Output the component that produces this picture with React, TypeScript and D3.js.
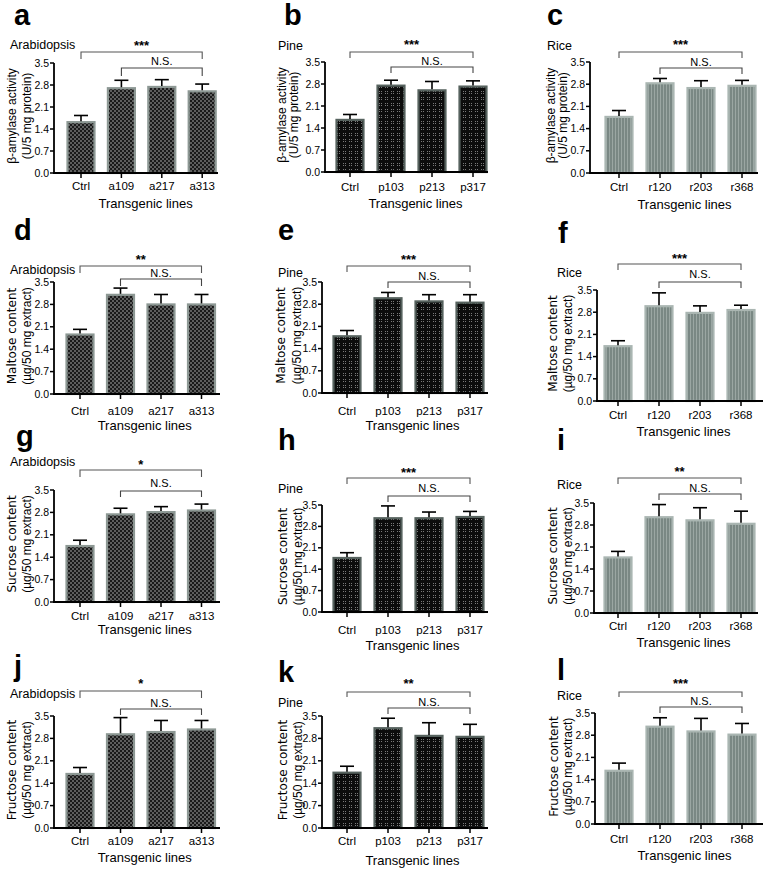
import React from "react";
import * as d3 from "d3";

// ---------- DATA ----------
const arabidopsisLines = ["Ctrl", "a109", "a217", "a313"];
const pineLines = ["Ctrl", "p103", "p213", "p317"];
const riceLines = ["Ctrl", "r120", "r203", "r368"];
const yTickValues = [0, 0.7, 1.4, 2.1, 2.8, 3.5];

const amylaseArabidopsis = [1.65, 2.73, 2.77, 2.63];
const amylaseArabidopsisErr = [0.18, 0.22, 0.2, 0.2];
const amylasePine = [1.69, 2.78, 2.63, 2.75];
const amylasePineErr = [0.14, 0.14, 0.25, 0.15];
const amylaseRice = [1.8, 2.86, 2.71, 2.78];
const amylaseRiceErr = [0.17, 0.12, 0.2, 0.14];

const maltoseArabidopsis = [1.89, 3.13, 2.83, 2.83];
const maltoseArabidopsisErr = [0.13, 0.18, 0.28, 0.28];
const maltosePine = [1.82, 3.02, 2.92, 2.88];
const maltosePineErr = [0.15, 0.15, 0.18, 0.22];
const maltoseRice = [1.76, 3.02, 2.81, 2.9];
const maltoseRiceErr = [0.14, 0.39, 0.19, 0.12];

const sucroseArabidopsis = [1.78, 2.77, 2.84, 2.89];
const sucroseArabidopsisErr = [0.15, 0.16, 0.14, 0.17];
const sucrosePine = [1.8, 3.1, 3.1, 3.14];
const sucrosePineErr = [0.14, 0.37, 0.17, 0.15];
const sucroseRice = [1.8, 3.08, 2.98, 2.87];
const sucroseRiceErr = [0.16, 0.37, 0.37, 0.37];

const fructoseArabidopsis = [1.72, 2.96, 3.03, 3.11];
const fructoseArabidopsisErr = [0.17, 0.49, 0.33, 0.25];
const fructosePine = [1.76, 3.15, 2.91, 2.88];
const fructosePineErr = [0.17, 0.28, 0.38, 0.36];
const fructoseRice = [1.71, 3.1, 2.95, 2.85];
const fructoseRiceErr = [0.21, 0.25, 0.38, 0.32];

const panelLetters = ["a", "b", "c", "d", "e", "f", "g", "h", "i", "j", "k", "l"];
const speciesNames = ["Arabidopsis", "Pine", "Rice"];
const significance = ["***", "***", "***", "**", "***", "***", "*", "***", "**", "*", "**", "***"];
const yLabelFirst = ["β-amylase activity", "Maltose content", "Sucrose content", "Fructose content"];
const yLabelSecond = ["(U/5 mg protein)", "(µg/50 mg extract)", "(µg/50 mg extract)", "(µg/50 mg extract)"];
const xAxisTitle = "Transgenic lines";
const nsLabel = "N.S.";

// ---------- LAYOUT (positions per panel) ----------
type L = {
  ax: number; ae: number; yt: number; yb: number; t0: number; st: number;
  lx: number; ly: number; tx: number; ty: number; sy: number; b1: number; b1d: number;
  nsy: number; b2: number; b2d: number; xly: number; xty: number; yl1: number; yl2: number;
};
const layouts: L[] = [
  { ax: 54, ae: 218, yt: 63, yb: 173, t0: 81, st: 40.4, lx: 14, ly: 25, tx: 10, ty: 49, sy: 50, b1: 52, b1d: 7, nsy: 65, b2: 68, b2d: 8, xly: 190, xty: 208, yl1: 12, yl2: 27 },
  { ax: 325, ae: 488, yt: 62, yb: 172, t0: 350, st: 41, lx: 284, ly: 25, tx: 278, ty: 50, sy: 49, b1: 52, b1d: 6, nsy: 65, b2: 67, b2d: 6, xly: 191, xty: 208, yl1: 282, yl2: 294 },
  { ax: 590, ae: 758, yt: 62, yb: 173, t0: 619, st: 41, lx: 547, ly: 25, tx: 547, ty: 50, sy: 49, b1: 52, b1d: 6, nsy: 66, b2: 68, b2d: 6, xly: 191, xty: 209, yl1: 551, yl2: 563 },
  { ax: 54, ae: 220, yt: 282, yb: 394, t0: 80, st: 40.5, lx: 14, ly: 240, tx: 10, ty: 274, sy: 264, b1: 266, b1d: 7, nsy: 277, b2: 279, b2d: 7, xly: 415, xty: 430, yl1: 12, yl2: 27 },
  { ax: 322, ae: 488, yt: 282, yb: 393, t0: 347, st: 41, lx: 278, ly: 240, tx: 278, ty: 277, sy: 264, b1: 266, b1d: 6, nsy: 280, b2: 282, b2d: 6, xly: 415, xty: 430, yl1: 281, yl2: 297 },
  { ax: 597, ae: 763, yt: 290, yb: 401, t0: 618, st: 41, lx: 558, ly: 243, tx: 557, ty: 277, sy: 263, b1: 264, b1d: 6, nsy: 278, b2: 282, b2d: 6, xly: 419, xty: 436, yl1: 553, yl2: 568 },
  { ax: 54, ae: 220, yt: 490, yb: 602, t0: 80, st: 40.5, lx: 16, ly: 446, tx: 10, ty: 466, sy: 469, b1: 470, b1d: 7, nsy: 487, b2: 491, b2d: 6, xly: 620, xty: 634, yl1: 12, yl2: 27 },
  { ax: 322, ae: 488, yt: 505, yb: 612, t0: 347, st: 41, lx: 278, ly: 450, tx: 278, ty: 493, sy: 477, b1: 478, b1d: 6, nsy: 492, b2: 496, b2d: 6, xly: 634, xty: 650, yl1: 283, yl2: 298 },
  { ax: 594, ae: 758, yt: 503, yb: 613, t0: 618, st: 41, lx: 557, ly: 450, tx: 557, ty: 489, sy: 476, b1: 478, b1d: 6, nsy: 492, b2: 494, b2d: 6, xly: 630, xty: 647, yl1: 553, yl2: 568 },
  { ax: 54, ae: 220, yt: 716, yb: 828, t0: 80, st: 40.5, lx: 14, ly: 676, tx: 10, ty: 698, sy: 688, b1: 691, b1d: 7, nsy: 707, b2: 709, b2d: 6, xly: 845, xty: 862, yl1: 12, yl2: 27 },
  { ax: 322, ae: 488, yt: 716, yb: 828, t0: 347, st: 41, lx: 278, ly: 682, tx: 278, ty: 707, sy: 688, b1: 692, b1d: 5, nsy: 706, b2: 708, b2d: 6, xly: 845, xty: 865, yl1: 283, yl2: 298 },
  { ax: 595, ae: 763, yt: 713, yb: 824, t0: 619, st: 41, lx: 557, ly: 680, tx: 557, ty: 700, sy: 688, b1: 692, b1d: 5, nsy: 705, b2: 707, b2d: 6, xly: 843, xty: 860, yl1: 554, yl2: 568 },
];

const valueSets = [
  amylaseArabidopsis, amylasePine, amylaseRice,
  maltoseArabidopsis, maltosePine, maltoseRice,
  sucroseArabidopsis, sucrosePine, sucroseRice,
  fructoseArabidopsis, fructosePine, fructoseRice,
];
const errorSets = [
  amylaseArabidopsisErr, amylasePineErr, amylaseRiceErr,
  maltoseArabidopsisErr, maltosePineErr, maltoseRiceErr,
  sucroseArabidopsisErr, sucrosePineErr, sucroseRiceErr,
  fructoseArabidopsisErr, fructosePineErr, fructoseRiceErr,
];
const lineSets = [arabidopsisLines, pineLines, riceLines];
const fills = ["url(#patA)", "url(#patP)", "url(#patR)"];
const borders = ["#8d9894", "#56625e", "#aab6b2"];

const FONT = "'Liberation Sans', Arial, sans-serif";

function Panel({ idx }: { idx: number }) {
  const col = idx % 3;
  const row = Math.floor(idx / 3);
  const L = layouts[idx];
  const cats = lineSets[col];
  const vals = valueSets[idx];
  const errs = errorSets[idx];
  const y = d3.scaleLinear().domain([0, 3.5]).range([L.yb, L.yt]);
  const x = d3.scalePoint<string>().domain(cats).range([L.t0, L.t0 + L.st * (cats.length - 1)]);
  const bw = 29;
  const capHalf = 7;
  const xc = (c: string) => x(c) as number;
  const first = xc(cats[0]);
  const second = xc(cats[1]);
  const last = xc(cats[cats.length - 1]);
  const ymid = (L.yt + L.yb) / 2 - 2;
  const firstFont = row === 0 ? FONT : "'DejaVu Sans', sans-serif";
  const firstSize = row === 0 ? 12 : 12;
  return (
    <g>
      <text x={L.lx} y={L.ly} fontFamily={FONT} fontWeight="bold" fontSize={29} fill="#000">
        {panelLetters[idx]}
      </text>
      <text x={L.tx} y={L.ty} fontFamily={FONT} fontSize={12.5} fill="#000">
        {speciesNames[col]}
      </text>
      {cats.map((c, i) => {
        const top = y(vals[i]);
        return (
          <rect key={"b" + c} x={xc(c) - bw / 2 + 1} y={top + 1} width={bw - 2} height={L.yb - top - 1}
            fill={fills[col]} stroke={borders[col]} strokeWidth={2.2} />
        );
      })}
      {cats.map((c, i) => {
        const top = y(vals[i]);
        const et = y(vals[i] + errs[i]);
        return (
          <g key={"e" + c} stroke="#000" strokeWidth={1.6}>
            <line x1={xc(c)} x2={xc(c)} y1={top} y2={et} />
            <line x1={xc(c) - capHalf} x2={xc(c) + capHalf} y1={et} y2={et} />
          </g>
        );
      })}
      <line x1={L.ax} x2={L.ax} y1={L.yt} y2={L.yb + 1} stroke="#000" strokeWidth={1.8} />
      {yTickValues.map((t) => (
        <g key={"yt" + t}>
          <line x1={L.ax - 4} x2={L.ax} y1={y(t)} y2={y(t)} stroke="#000" strokeWidth={1.5} />
          <text x={L.ax - 5} y={y(t)} dy="0.35em" textAnchor="end" fontFamily={FONT} fontSize={10.5} fill="#000">
            {t.toFixed(1)}
          </text>
        </g>
      ))}
      <line x1={L.ax - 1} x2={L.ae} y1={L.yb} y2={L.yb} stroke="#000" strokeWidth={1.8} />
      {cats.map((c) => (
        <g key={"xt" + c}>
          <line x1={xc(c)} x2={xc(c)} y1={L.yb} y2={L.yb + 5} stroke="#000" strokeWidth={1.5} />
          <text x={xc(c)} y={L.xly} textAnchor="middle" fontFamily={FONT} fontSize={11.5} fill="#000">
            {c}
          </text>
        </g>
      ))}
      <text x={(first + last) / 2 + 4} y={L.xty} textAnchor="middle" fontFamily={FONT} fontSize={13} fill="#000">
        {xAxisTitle}
      </text>
      <text transform={`translate(${L.yl1},${ymid}) rotate(-90)`} dy="0.35em" textAnchor="middle"
        fontFamily={firstFont} fontSize={firstSize} fill="#000">
        {yLabelFirst[row]}
      </text>
      <text transform={`translate(${L.yl2},${ymid}) rotate(-90)`} dy="0.35em" textAnchor="middle"
        fontFamily={FONT} fontSize={12} fill="#000">
        {yLabelSecond[row]}
      </text>
      <path d={`M${first},${L.b1 + L.b1d}V${L.b1}H${last}V${L.b1 + L.b1d}`} fill="none" stroke="#555" strokeWidth={1.1} />
      <text x={(first + last) / 2} y={L.sy} textAnchor="middle" fontFamily={FONT} fontWeight="bold" fontSize={13} fill="#000">
        {significance[idx]}
      </text>
      <path d={`M${second},${L.b2 + L.b2d}V${L.b2}H${last}V${L.b2 + L.b2d}`} fill="none" stroke="#444" strokeWidth={1.1} />
      <text x={(second + last) / 2} y={L.nsy} textAnchor="middle" fontFamily={FONT} fontSize={11} fill="#000">
        {nsLabel}
      </text>
    </g>
  );
}

export default function App() {
  return (
    <svg width={765} height={873} style={{ position: "absolute", left: 0, top: 0, background: "#fff" }}>
      <defs>
        <pattern id="patA" width={4} height={4} patternUnits="userSpaceOnUse">
          <rect width={4} height={4} fill="#1a1a1a" />
          <rect x={0} y={0} width={2} height={2} fill="#5e5e5e" />
          <rect x={2} y={2} width={2} height={2} fill="#5e5e5e" />
        </pattern>
        <pattern id="patP" width={6} height={6} patternUnits="userSpaceOnUse">
          <rect width={6} height={6} fill="#0c0c0c" />
          <rect x={1} y={1} width={1} height={1} fill="#7a7a7a" />
          <rect x={3} y={1} width={1} height={1} fill="#7a7a7a" />
          <rect x={1} y={3} width={1} height={1} fill="#7a7a7a" />
          <rect x={3} y={3} width={1} height={1} fill="#7a7a7a" />
        </pattern>
        <pattern id="patR" width={3} height={3} patternUnits="userSpaceOnUse">
          <rect width={3} height={3} fill="#7a8884" />
          <rect x={0} y={0} width={1} height={3} fill="#9ba7a3" />
        </pattern>
      </defs>
      <rect width={765} height={873} fill="#fff" />
      {panelLetters.map((_, i) => (
        <Panel key={i} idx={i} />
      ))}
    </svg>
  );
}
